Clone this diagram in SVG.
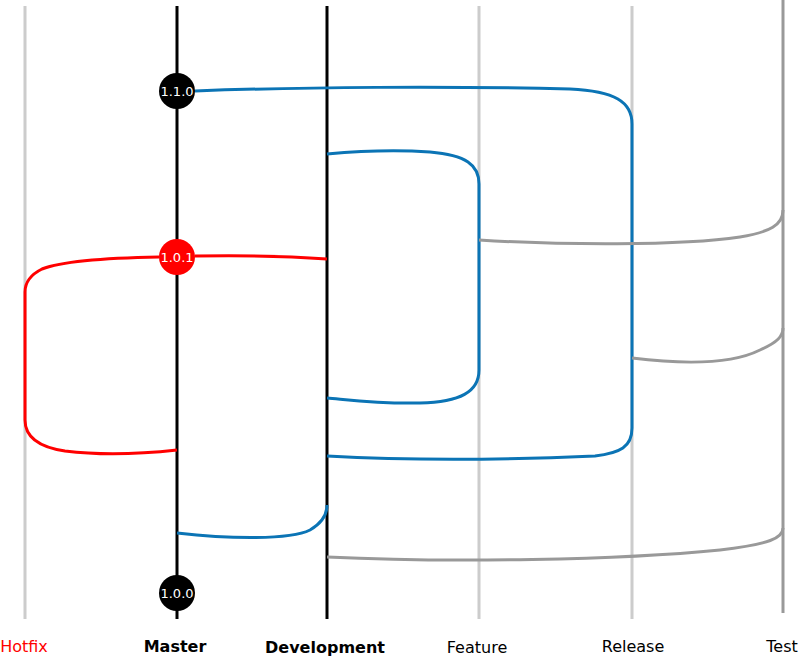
<svg xmlns="http://www.w3.org/2000/svg" width="800" height="657" viewBox="0 0 800 657">
<style>
.lane{stroke:#cccccc;stroke-width:3;fill:none}
.main{stroke:#000;stroke-width:3;fill:none}
.test{stroke:#999999;stroke-width:3;fill:none}
.blue{stroke:#0b74b5;stroke-width:3;fill:none}
.red{stroke:#ff0000;stroke-width:3;fill:none}
.grey{stroke:#999999;stroke-width:3;fill:none}
.lbl{font-family:"DejaVu Sans",Verdana,sans-serif;font-size:16px;text-anchor:middle}
.ver{font-family:"DejaVu Sans",Verdana,sans-serif;font-size:13px;fill:#fff;text-anchor:middle}
</style>
<rect width="800" height="657" fill="#fff"/>
<g id="lanes">
<line class="lane" x1="25" y1="6" x2="25" y2="619"/>
<line class="main" x1="177" y1="6" x2="177" y2="619"/>
<line class="main" x1="327" y1="6" x2="327" y2="619"/>
<line class="lane" x1="479" y1="6" x2="479" y2="619"/>
<line class="lane" x1="632" y1="6" x2="632" y2="619"/>
<line class="test" x1="783" y1="0" x2="783" y2="613"/>
</g>
<g id="connectors">
<path class="blue" d="M195,91 C300,87 450,86 570,89 C615,91 632,102 632,124 L632,428 C632,447 620,453 595,456 C480,461 400,460 327,456"/>
<path class="blue" d="M327,154 C360,151 400,150 430,152 C466,155 479,165 479,184 L479,370 C479,392 460,402 420,403 C380,404 350,400 327,398"/>
<path class="blue" d="M177,533 C230,539 290,540 310,530 C322,523 327,515 327,505"/>
<path class="red" d="M159,257 C100,258 60,262 42,269 C30,275 25,282 25,292 L25,420 C25,437 38,447 65,451 C105,456 150,453 177,450"/>
<path class="red" d="M195,256 C250,255 300,257 327,259"/>
<path class="grey" d="M479,240 C560,245 680,246 740,237 C770,232 783,225 783,210"/>
<path class="grey" d="M632,358 C680,364 730,365 760,350 C778,342 783,336 783,328"/>
<path class="grey" d="M327,557 C450,563 620,560 720,550 C770,544 783,538 783,528"/>
</g>
<g id="node-110">
<circle cx="177" cy="91" r="18" fill="#000"/>
<text class="ver" x="177" y="95.5">1.1.0</text>
</g>
<g id="node-101">
<circle cx="177" cy="257" r="18" fill="#ff0000"/>
<text class="ver" x="177" y="261.5">1.0.1</text>
</g>
<g id="node-100">
<circle cx="177" cy="593" r="18" fill="#000"/>
<text class="ver" x="177" y="597.5">1.0.0</text>
</g>
<g id="labels">
<text class="lbl" x="24" y="652" fill="#ff0000">Hotfix</text>
<text class="lbl" x="175" y="652" font-weight="bold">Master</text>
<text class="lbl" x="325" y="653" font-weight="bold">Development</text>
<text class="lbl" x="477" y="653">Feature</text>
<text class="lbl" x="633" y="652">Release</text>
<text class="lbl" x="782" y="652">Test</text>
</g>
</svg>
